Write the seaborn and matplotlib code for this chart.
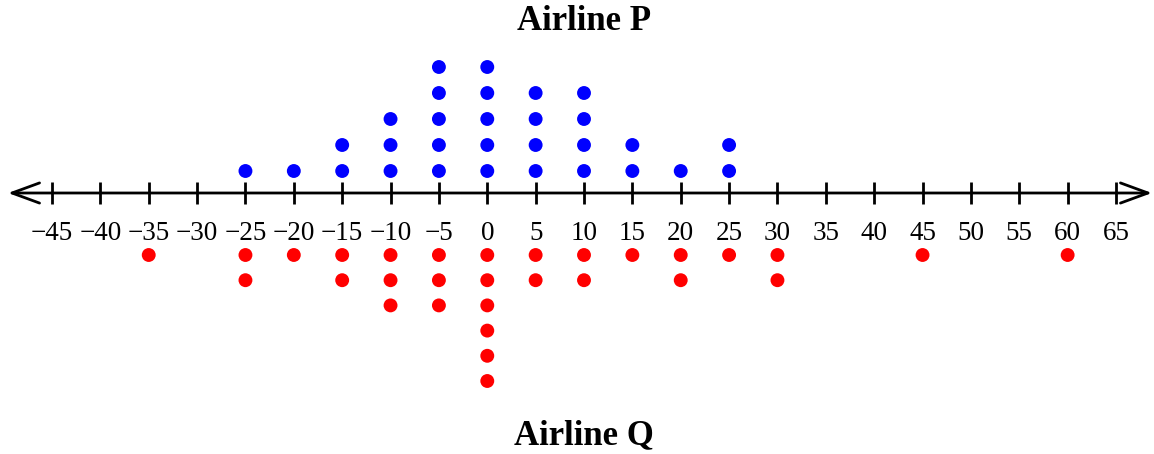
import pandas as pd
import matplotlib.pyplot as plt
import seaborn as sns

# dot plot data: value on the number line and how many dots stack there
p_values = [-25, -20, -15, -10, -5, 0, 5, 10, 15, 20, 25]
p_counts = [1, 1, 2, 3, 5, 5, 4, 4, 2, 1, 2]
q_values = [-35, -25, -20, -15, -10, -5, 0, 5, 10, 15, 20, 25, 30, 45, 60]
q_counts = [1, 2, 1, 2, 3, 3, 6, 2, 2, 1, 2, 1, 2, 1, 1]
tick_values = list(range(-45, 70, 5))

sns.set_style('white')
plt.rcParams['font.family'] = ['Liberation Serif', 'DejaVu Serif']
plt.rcParams['text.color'] = 'black'

def stack(values, counts):
    rows = []
    for v, c in zip(values, counts):
        for k in range(c):
            rows.append({'value': v, 'level': k})
    return pd.DataFrame(rows)

# y axis in pixel rows (top = 0), number line at row 193
axis_y = 193
p_df = stack(p_values, p_counts)
p_df['y'] = axis_y - 22 - 26 * p_df['level']
q_df = stack(q_values, q_counts)
q_df['y'] = axis_y + 62 + 25.2 * q_df['level']

fig = plt.figure(figsize=(11.54, 4.54), dpi=100)
ax = fig.add_axes([0, 0, 1, 1])
upp = 110 / 1064
ax.set_xlim(-45 - 52 * upp, 65 + 38 * upp)
ax.set_ylim(454, 0)
ax.axis('off')

# number line: two open arrows going out from the middle
mid = 10
for end in (-45 - 44 * upp, 65 + 36 * upp):
    ax.annotate('', xy=(end, axis_y), xytext=(mid, axis_y),
                arrowprops=dict(arrowstyle='->, head_length=0.9, head_width=0.33',
                                lw=2, color='black', mutation_scale=22,
                                shrinkA=0, shrinkB=0))
ax.vlines(tick_values, axis_y - 11, axis_y + 11, color='black', lw=2)
for t in tick_values:
    label = str(t).replace('-', '\u2212')
    ax.text(t, 234, label, ha='center', va='center', fontsize=19.5)

sns.scatterplot(data=p_df, x='value', y='y', color='#0000ff', s=100,
                edgecolor='none', ax=ax, legend=False)
sns.scatterplot(data=q_df, x='value', y='y', color='#ff0000', s=100,
                edgecolor='none', ax=ax, legend=False)

ax.text(10, 21, 'Airline P', ha='center', va='center', fontsize=25, fontweight='bold')
ax.text(10, 436, 'Airline Q', ha='center', va='center', fontsize=25, fontweight='bold')

fig.savefig('out.png', dpi=100)
